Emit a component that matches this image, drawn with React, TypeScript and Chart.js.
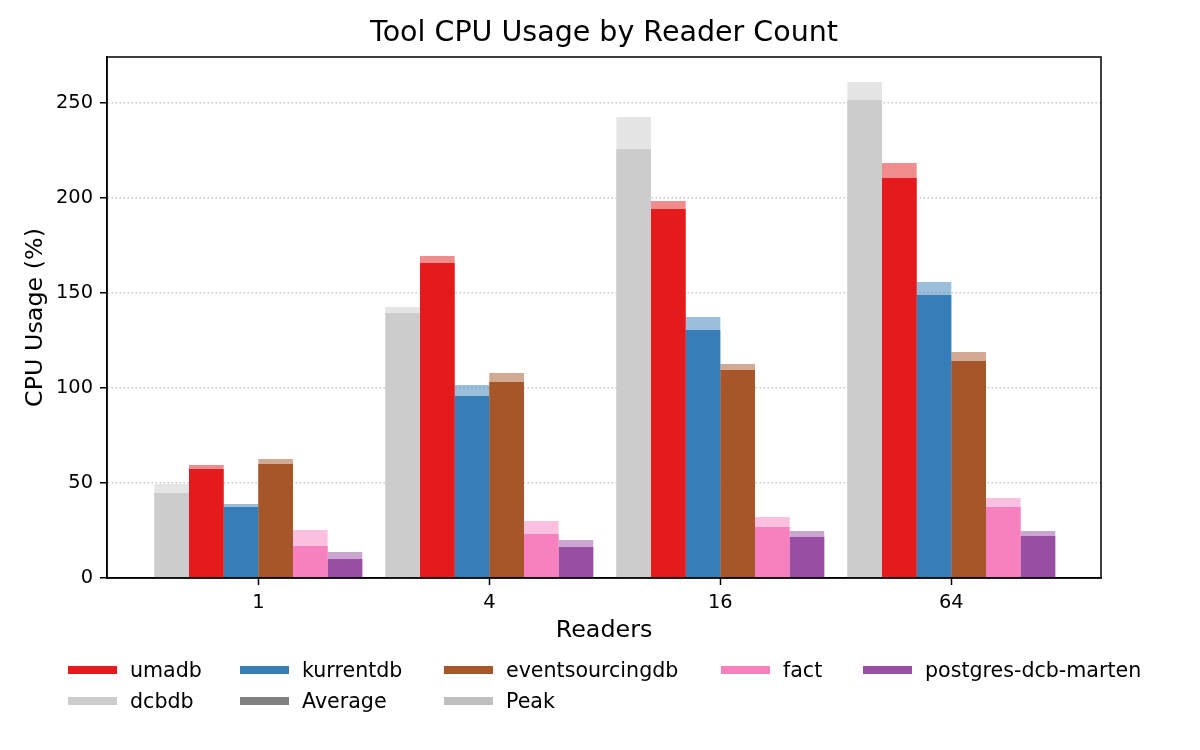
import { useEffect, useRef } from 'react'
import Chart from 'chart.js/auto'

const FONT = 'DejaVu Sans'

// reader counts on the x axis
const readers = ['1', '4', '16', '64']

// tools, in the order they sit inside each group
const tools = ['dcbdb', 'umadb', 'kurrentdb', 'eventsourcingdb', 'fact', 'postgres-dcb-marten']
const toolColors = ['#cccccc', '#e41a1c', '#377eb8', '#a65628', '#f781bf', '#984ea3']

// average CPU usage (%)
const dcbdbAvg = [44.7, 139.5, 225.8, 251.6]
const umadbAvg = [57.4, 165.8, 194.2, 210.5]
const kurrentdbAvg = [37.4, 95.8, 130.5, 148.9]
const eventsourcingdbAvg = [60.0, 103.2, 109.5, 114.2]
const factAvg = [16.8, 23.2, 26.8, 37.4]
const postgresAvg = [10.0, 16.3, 21.6, 22.1]

// peak CPU usage (%)
const dcbdbPeak = [49.5, 142.6, 242.6, 261.0]
const umadbPeak = [59.5, 169.5, 198.4, 218.4]
const kurrentdbPeak = [38.9, 101.6, 137.4, 155.8]
const eventsourcingdbPeak = [62.6, 107.9, 112.6, 118.9]
const factPeak = [25.3, 30.0, 32.1, 42.1]
const postgresPeak = [13.7, 20.0, 24.7, 24.7]

const avgSeries = [dcbdbAvg, umadbAvg, kurrentdbAvg, eventsourcingdbAvg, factAvg, postgresAvg]
const peakSeries = [dcbdbPeak, umadbPeak, kurrentdbPeak, eventsourcingdbPeak, factPeak, postgresPeak]

// legend order as in the figure
const legendLabels = ['umadb', 'kurrentdb', 'eventsourcingdb', 'fact', 'postgres-dcb-marten', 'dcbdb', 'Average', 'Peak']
const legendColors = ['#e41a1c', '#377eb8', '#a65628', '#f781bf', '#984ea3', '#cccccc', '#808080', '#bfbfbf']

const fade = (hex: string, a: number) => {
  const n = parseInt(hex.slice(1), 16)
  return `rgba(${(n >> 16) & 255}, ${(n >> 8) & 255}, ${n & 255}, ${a})`
}

const toPoints = (values: number[]) => values.map((y, i) => ({ x: i, y }))

// box around the plot area, like matplotlib spines
const framePlugin = {
  id: 'frame',
  afterDraw(chart: any) {
    const { ctx, chartArea } = chart
    const { left, top, right, bottom } = chartArea
    ctx.save()
    ctx.strokeStyle = '#000'
    ctx.lineWidth = 1.5
    ctx.strokeRect(left, top, right - left, bottom - top)
    ctx.restore()
  },
}

export default function App() {
  const canvasRef = useRef<HTMLCanvasElement>(null)
  const chartRef = useRef<Chart | null>(null)

  useEffect(() => {
    if (!canvasRef.current) return
    const ctx = canvasRef.current.getContext('2d')
    if (!ctx) return

    if (chartRef.current) chartRef.current.destroy()

    // avg and peak of one tool share a slot (same stack name); the y axis is
    // not stacked, so the peak bar just sits behind the avg bar
    const avgSets = tools.map((name, i) => ({
      label: `${name} avg`,
      data: toPoints(avgSeries[i]),
      backgroundColor: toolColors[i],
      borderWidth: 0,
      stack: name,
      categoryPercentage: 0.9,
      barPercentage: 1.0,
    }))
    const peakSets = tools.map((name, i) => ({
      label: `${name} peak`,
      data: toPoints(peakSeries[i]),
      backgroundColor: fade(toolColors[i], 0.5),
      borderWidth: 0,
      stack: name,
      categoryPercentage: 0.9,
      barPercentage: 1.0,
    }))

    chartRef.current = new Chart(ctx, {
      type: 'bar',
      data: { datasets: [...avgSets, ...peakSets] as any },
      options: {
        responsive: true,
        maintainAspectRatio: false,
        animation: false,
        layout: { padding: { left: 0, right: 99, top: 0, bottom: 0 } },
        plugins: {
          legend: { display: false },
          tooltip: { enabled: false },
          title: {
            display: true,
            fullSize: false,
            text: 'Tool CPU Usage by Reader Count',
            color: '#000',
            font: { family: FONT, size: 28.5, weight: 'normal' },
            padding: { top: 16.5, bottom: 6.3 },
          },
        },
        scales: {
          x: {
            type: 'linear',
            min: -0.655,
            max: 3.648,
            offset: false,
            afterBuildTicks: (scale: any) => {
              scale.ticks = readers.map((_, i) => ({ value: i }))
            },
            afterFit: (scale: any) => {
              scale.height = 172
            },
            ticks: {
              color: '#000',
              font: { family: FONT, size: 19.4 },
              padding: 6,
              maxRotation: 0,
              autoSkip: false,
              callback: (v: any) => readers[v] ?? '',
            },
            grid: {
              offset: false,
              drawOnChartArea: false,
              tickLength: 7,
              tickColor: '#000',
              tickWidth: 1.5,
            },
            border: { color: '#000', width: 1.5 },
            title: {
              display: true,
              text: 'Readers',
              color: '#000',
              font: { family: FONT, size: 23.8 },
              padding: { top: 0, bottom: 105 },
            },
          },
          y: {
            stacked: false,
            min: 0,
            max: 274.2,
            z: 1,
            afterFit: (scale: any) => {
              scale.width = 107
            },
            ticks: {
              stepSize: 50,
              includeBounds: false,
              color: '#000',
              font: { family: FONT, size: 19.4 },
              padding: 7,
            },
            grid: {
              color: 'rgba(176, 176, 176, 0.7)',
              lineWidth: 1.5,
              tickLength: 7,
              tickColor: '#000',
              tickWidth: 1.5,
            },
            border: { color: '#000', width: 1.5, dash: [1.5, 2.5] },
            title: {
              display: true,
              text: 'CPU Usage (%)',
              color: '#000',
              font: { family: FONT, size: 23.8 },
              padding: { top: 22, bottom: 0 },
            },
          },
        },
      } as any,
      plugins: [framePlugin],
    })

    return () => {
      if (chartRef.current) {
        chartRef.current.destroy()
        chartRef.current = null
      }
    }
  }, [])

  return (
    <div
      style={{
        position: 'absolute',
        left: 0,
        top: 0,
        width: 1200,
        height: 750,
        background: '#fff',
        fontFamily: FONT,
      }}
    >
      <canvas ref={canvasRef} />

      {/* Legend */}
      <div
        style={{
          position: 'absolute',
          left: 68,
          top: 654,
          display: 'grid',
          gridTemplateColumns: '172px 204px 277px 142px auto',
          gridAutoRows: '31px',
          fontSize: 20.6,
          color: '#000',
        }}
      >
        {legendLabels.map((label, i) => (
          <div key={label} style={{ display: 'flex', alignItems: 'center', whiteSpace: 'nowrap' }}>
            <span
              style={{
                display: 'inline-block',
                width: 49,
                height: 8,
                background: legendColors[i],
                marginRight: 13,
              }}
            />
            <span>{label}</span>
          </div>
        ))}
      </div>
    </div>
  )
}
